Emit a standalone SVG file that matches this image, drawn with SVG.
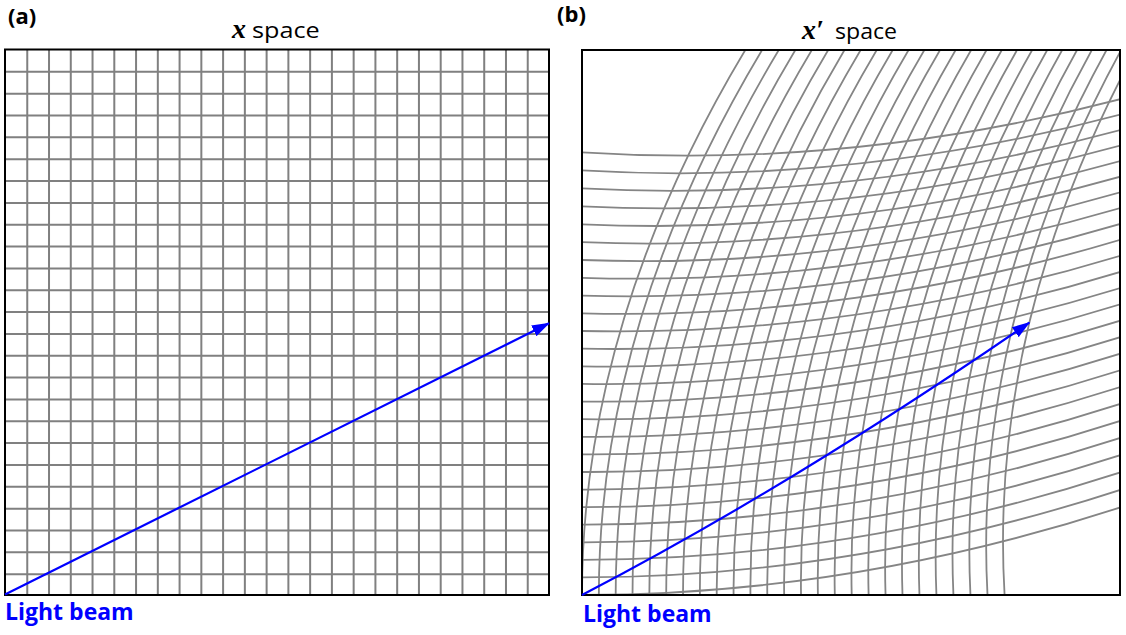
<svg xmlns="http://www.w3.org/2000/svg" xmlns:xlink="http://www.w3.org/1999/xlink" width="1126" height="635" viewBox="0 0 1126 635">
<style>
.grid{fill:none;stroke:#808080;stroke-width:2}
.cgrid{fill:none;stroke:#858585;stroke-width:1.8}
.frame{fill:none;stroke:#000;stroke-width:2}
.beam{fill:none;stroke:#0000ff;stroke-width:2.2;marker-end:url(#ah)}
.lbl{font-family:"Open Sans","Liberation Sans",sans-serif;font-weight:bold;font-size:23px;fill:#0000ff}
.pl{font-family:"Open Sans","Liberation Sans",sans-serif;font-weight:bold;font-size:22px;fill:#000}
.tt{font-family:"Open Sans","Liberation Sans",sans-serif;font-size:21px;fill:#000}
.mx{font-family:"Liberation Serif","DejaVu Serif",serif;font-weight:bold;font-style:italic;font-size:28px;fill:#000}
</style>
<defs>
<marker id="ah" viewBox="0 0 18 12" refX="17" refY="6" markerWidth="18" markerHeight="12" markerUnits="userSpaceOnUse" orient="auto">
<path d="M0,0 L18,6 L0,12 Z" fill="#0000ff"/>
</marker>
<clipPath id="clipB"><rect x="582" y="50" width="538" height="545"/></clipPath>
<path id="vb" class="cgrid" d="M584.39,660.9 Q561.31,342.4 761.31,23.9"/>
<path id="hb" class="cgrid" d="M455.7,590.18 Q803.03,616.71 1150.35,497.31"/>
</defs>

<g id="panel-a">
<text class="pl" x="8" y="24">(a)</text>
<text x="232" y="38"><tspan class="mx">x</tspan></text>
<text class="tt" transform="translate(252,38) scale(1.2,1)">space</text>
<path class="grid" d="M27.26,49.5V595M49.02,49.5V595M70.78,49.5V595M92.54,49.5V595M114.3,49.5V595M136.06,49.5V595M157.82,49.5V595M179.58,49.5V595M201.34,49.5V595M223.1,49.5V595M244.86,49.5V595M266.62,49.5V595M288.38,49.5V595M310.14,49.5V595M331.9,49.5V595M353.66,49.5V595M375.42,49.5V595M397.18,49.5V595M418.94,49.5V595M440.7,49.5V595M462.46,49.5V595M484.22,49.5V595M505.98,49.5V595M527.74,49.5V595
M5,71.84H549M5,93.68H549M5,115.52H549M5,137.36H549M5,159.2H549M5,181.04H549M5,202.88H549M5,224.72H549M5,246.56H549M5,268.4H549M5,290.24H549M5,312.08H549M5,333.92H549M5,355.76H549M5,377.6H549M5,399.44H549M5,421.28H549M5,443.12H549M5,464.96H549M5,486.8H549M5,508.64H549M5,530.48H549M5,552.32H549M5,574.16H549"/>
<rect class="frame" x="5" y="49.5" width="544" height="545.5"/>
<text class="lbl" x="5" y="619.5">Light beam</text>
</g>

<g id="panel-b">
<text class="pl" x="557" y="22">(b)</text>
<text x="802" y="38.5"><tspan class="mx">x′</tspan></text>
<text class="tt" transform="translate(835,38.5) scale(1.1,1)">space</text>
<g id="warped-grid" clip-path="url(#clipB)">
<use xlink:href="#vb"/>
<use xlink:href="#vb" transform="translate(16.84,-0.086)"/>
<use xlink:href="#vb" transform="translate(33.68,-0.343)"/>
<use xlink:href="#vb" transform="translate(50.52,-0.772)"/>
<use xlink:href="#vb" transform="translate(67.36,-1.372)"/>
<use xlink:href="#vb" transform="translate(84.2,-2.144)"/>
<use xlink:href="#vb" transform="translate(101.04,-3.087)"/>
<use xlink:href="#vb" transform="translate(117.88,-4.202)"/>
<use xlink:href="#vb" transform="translate(134.72,-5.489)"/>
<use xlink:href="#vb" transform="translate(151.56,-6.947)"/>
<use xlink:href="#vb" transform="translate(168.4,-8.576)"/>
<use xlink:href="#vb" transform="translate(185.24,-10.377)"/>
<use xlink:href="#vb" transform="translate(202.08,-12.349)"/>
<use xlink:href="#vb" transform="translate(218.92,-14.493)"/>
<use xlink:href="#vb" transform="translate(235.76,-16.809)"/>
<use xlink:href="#vb" transform="translate(252.6,-19.296)"/>
<use xlink:href="#vb" transform="translate(269.44,-21.955)"/>
<use xlink:href="#vb" transform="translate(286.28,-24.785)"/>
<use xlink:href="#vb" transform="translate(303.12,-27.787)"/>
<use xlink:href="#vb" transform="translate(319.96,-30.959)"/>
<use xlink:href="#vb" transform="translate(336.8,-34.304)"/>
<use xlink:href="#vb" transform="translate(353.64,-37.82)"/>
<use xlink:href="#vb" transform="translate(370.48,-41.508)"/>
<use xlink:href="#vb" transform="translate(387.32,-45.367)"/>
<use xlink:href="#vb" transform="translate(404.16,-49.398)"/>
<use xlink:href="#vb" transform="translate(421,-53.6)"/>
<use xlink:href="#hb"/>
<use xlink:href="#hb" transform="translate(0.17,-17.572)"/>
<use xlink:href="#hb" transform="translate(0.679,-35.144)"/>
<use xlink:href="#hb" transform="translate(1.528,-52.716)"/>
<use xlink:href="#hb" transform="translate(2.716,-70.288)"/>
<use xlink:href="#hb" transform="translate(4.244,-87.86)"/>
<use xlink:href="#hb" transform="translate(6.111,-105.432)"/>
<use xlink:href="#hb" transform="translate(8.318,-123.004)"/>
<use xlink:href="#hb" transform="translate(10.865,-140.576)"/>
<use xlink:href="#hb" transform="translate(13.751,-158.148)"/>
<use xlink:href="#hb" transform="translate(16.976,-175.72)"/>
<use xlink:href="#hb" transform="translate(20.541,-193.292)"/>
<use xlink:href="#hb" transform="translate(24.445,-210.864)"/>
<use xlink:href="#hb" transform="translate(28.689,-228.436)"/>
<use xlink:href="#hb" transform="translate(33.273,-246.008)"/>
<use xlink:href="#hb" transform="translate(38.196,-263.58)"/>
<use xlink:href="#hb" transform="translate(43.459,-281.152)"/>
<use xlink:href="#hb" transform="translate(49.061,-298.724)"/>
<use xlink:href="#hb" transform="translate(55.003,-316.296)"/>
<use xlink:href="#hb" transform="translate(61.283,-333.868)"/>
<use xlink:href="#hb" transform="translate(67.904,-351.44)"/>
<use xlink:href="#hb" transform="translate(74.864,-369.012)"/>
<use xlink:href="#hb" transform="translate(82.164,-386.584)"/>
<use xlink:href="#hb" transform="translate(89.803,-404.156)"/>
<use xlink:href="#hb" transform="translate(97.782,-421.728)"/>
<use xlink:href="#hb" transform="translate(106.1,-439.3)"/>
</g>
<rect class="frame" x="582" y="50" width="538" height="545"/>
<text class="lbl" x="583" y="621.5">Light beam</text>
</g>

<g id="connectors">
<path id="beam-a" class="beam" d="M5,594.5 L549,323.3"/>
<path id="beam-b" class="beam" d="M582,595 Q792.5,485.6 1029.3,322.6"/>
</g>
</svg>
